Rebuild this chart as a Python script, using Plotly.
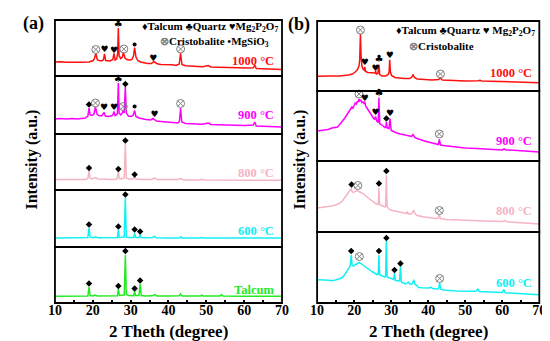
import plotly.graph_objects as go

# ---------------- data: (2-theta, intensity a.u.) ----------------
a1000 = [(10,14),(11.5,14.3),(13,13.8),(15,13.5),(17,13.8),(19,14),(19.7,14.8),(20.1,15.5),(20.4,17),(20.8,22.5),(21.2,16),(21.7,15.2),(22.3,15),(22.8,16),(23.1,22),(23.4,15.5),(24,15.2),(24.6,15),(25.3,16.5),(25.6,22.5),(25.9,16),(26.3,17),(26.55,22),(26.75,48),(26.95,20),(27.4,17.5),(27.8,19),(28.1,23.5),(28.5,18),(29,16.5),(29.6,16),(30.3,16.5),(30.75,20),(31.05,28.5),(31.4,19),(31.9,15.5),(32.6,14),(33.5,13.2),(34.5,12.5),(35.5,12.5),(36.1,14.5),(36.5,13.5),(37,12.2),(38,11.5),(39,11.5),(40,11),(41,11.2),(42,10.5),(42.85,12),(43.2,23),(43.55,11.5),(44.5,10.3),(46,9.8),(47.5,9.8),(49,9.3),(50.5,10.5),(51.2,9),(53,8.8),(55,8.5),(57,8.3),(59,8),(61,8),(62.4,8.2),(62.8,11),(63.2,7.5),(65,7.2),(67,7),(70,6.5)]
a900 = [(10,15),(11.5,15.5),(13,15),(14.5,15.5),(16,15),(17.2,15.8),(18,16),(18.7,18),(19.0,26),(19.3,19),(19.8,18.5),(20.3,20),(20.7,27),(21.1,20),(21.6,18.5),(22.3,18),(22.7,19.5),(23.0,21.5),(23.3,18),(24,17.5),(24.8,18),(25.3,19),(25.6,22.5),(25.9,18.5),(26.5,20),(26.75,51),(26.95,21),(27.4,19),(27.8,21),(28.05,23.5),(28.3,21),(28.6,47),(28.85,21),(29.4,18),(30.2,17.5),(30.7,19),(31.05,23.5),(31.4,17.5),(32.2,16),(33,15),(34,14.5),(35.3,14),(35.9,15.5),(36.3,14.5),(36.8,13),(38,12.5),(39.5,12),(41,11.5),(42.5,11),(42.9,13),(43.2,26),(43.5,12),(44.5,10.5),(46,10.2),(47.5,10),(49,9.7),(50.5,11),(51.2,9.5),(53,9.3),(55,9),(58,8.7),(60,8.5),(62.4,9),(62.8,12),(63.2,8),(65,7.8),(67,7.5),(70,7)]
a800 = [(10,10.5),(12,10.7),(14,10.5),(16,10.6),(18,10.5),(18.7,11.5),(19.0,19),(19.3,12),(19.8,11),(20.7,12.5),(21.3,11),(23,10.5),(25,10.5),(26.4,11),(26.75,19),(27.0,11.5),(27.5,11),(28.3,12),(28.6,46),(28.85,12),(29.5,11),(30.6,11),(31.05,13),(31.4,11),(33,10.5),(35.5,10.5),(36.3,12),(37,10.5),(40,10.5),(42.5,10.5),(43.2,11.5),(44,10),(48,10),(48.8,10.8),(49.5,10),(55,10),(60,9.8),(65,9.8),(70,9.7)]
a600 = [(10,9),(15,9),(18.7,9.5),(19.0,19),(19.3,10),(20,9.3),(20.7,10),(21.5,9.2),(25,9),(26.5,9.5),(26.75,17),(27.0,9.5),(28.3,10),(28.6,49),(28.85,10),(29.5,9.5),(30.8,9.5),(31.05,14),(31.3,9.5),(32.3,9.5),(32.5,12.5),(32.75,9.5),(34,9.2),(35.8,9.5),(36.3,10.7),(36.8,9.2),(40,9),(42.8,9),(43.2,10),(43.6,9),(48.5,9),(48.8,9.6),(49.1,9),(55,9),(60,9),(65,9),(70,9)]
atalc = [(10,6.7),(15,6.7),(18.7,7),(19.0,16),(19.3,7.5),(20,7),(20.6,8),(21.2,7),(25,6.8),(26.5,7.2),(26.75,14),(27.0,7.5),(28.3,8),(28.6,48),(28.85,8.5),(29.5,7.5),(30.8,7.3),(31.05,11.5),(31.3,7.5),(32.2,7.5),(32.5,19),(32.8,7.5),(34,7),(35.7,7.2),(36.3,8.5),(37,7),(40,7),(42.8,7.2),(43.2,9),(43.6,7),(48.5,7),(48.8,8),(49.1,7),(53.6,7),(54.0,8.5),(54.4,7),(60,6.8),(65,6.8),(70,6.8)]

b1000 = [(10,14.7),(12,14.5),(14,15),(16,15),(17.5,15.5),(18.5,16),(19.5,17),(20.3,19),(20.9,21.5),(21.3,25),(21.5,31),(21.7,57),(21.9,33),(22.1,25),(22.4,22),(22.7,21),(22.9,24),(23.1,19.5),(23.7,18.5),(24.5,18),(25.3,17.5),(25.6,18),(25.8,20),(26.0,17),(26.4,17.5),(26.7,26.3),(26.9,16.5),(27.5,15),(28.5,15),(29.2,16.5),(29.45,19),(29.6,31.3),(29.8,19),(30.1,15.5),(31,13.5),(32,13),(33.5,12.5),(35,12.5),(35.6,14),(35.9,16.3),(36.3,13.5),(37,12),(39,11.5),(41,11),(42.8,11.5),(43.3,13),(43.8,11),(46,10.5),(50,10),(53.5,10.2),(54,10.8),(54.5,10),(58,9.7),(62,9.5),(66,9),(70,8.3)]
b900 = [(10,30),(11,30.5),(12,31),(13,31.5),(14,33),(15,33.5),(15.5,34),(16,36),(16.5,38),(17,40.5),(17.5,43),(18,46),(18.5,49),(19,51.5),(19.4,54),(19.7,53),(20,56),(20.3,58),(20.6,57),(20.9,60),(21.1,59),(21.3,62),(21.5,60),(21.8,61),(22.1,58.5),(22.4,59),(22.7,57),(22.9,59.5),(23.1,55),(23.5,53),(24,49.5),(24.5,47),(25,44),(25.5,41.5),(25.8,44.5),(26.1,40),(26.5,38.5),(26.7,63.5),(26.9,37.5),(27.3,36),(27.8,35),(28.3,33.5),(28.55,34),(28.7,39),(28.9,33),(29.4,32.5),(29.7,42.5),(30.0,30.5),(30.5,29.5),(31.5,28),(32.5,27),(33.5,26),(34.5,25),(35.5,24.5),(35.9,26.5),(36.4,23.5),(37,22.5),(38,21),(39,20),(40,19),(41,18),(42,17),(42.7,16.5),(43.0,21.5),(43.3,16),(44,15.5),(45,15),(47,14),(50,13),(53,12.5),(55,12),(58,11.5),(60,11),(60.5,12.2),(61,11),(63,10.8),(65,10.5),(67,10),(70,9)]
b800 = [(10,24),(11,24.5),(12,24.3),(13,25),(13.9,26),(15,27),(16,28.5),(16.8,31),(17.5,34),(18,37),(18.5,40),(18.9,41.5),(19.2,43),(19.45,40.5),(19.8,39.5),(20.2,40.5),(20.6,41.5),(21.0,41),(21.4,40.5),(21.8,39.5),(22.3,38.5),(22.8,36.5),(23.3,35.5),(23.8,34),(24.3,32.5),(24.8,31),(25.3,30),(25.8,28.5),(26.4,27.5),(26.55,29),(26.7,44),(26.85,28),(27.2,27),(27.7,26),(28.3,25),(28.5,26),(28.7,57),(28.9,25),(29.3,23.5),(29.7,22.3),(30.3,21.5),(31,21),(31.8,20),(32.5,19.5),(33.3,19),(34.1,18.5),(34.35,20.5),(34.6,18),(35.3,18),(35.8,19.5),(36.1,22),(36.5,18),(37,16.5),(38,15.5),(39,15),(40,14.5),(41,14),(42.3,13.5),(42.7,14),(43.0,17.3),(43.3,13.5),(44,13),(45,12.5),(47,12.3),(48,12),(50,12),(52,11.5),(55,11),(58,10.8),(60,10.5),(60.7,11.5),(61.2,10.3),(63,9.8),(65,9.2),(67,8.8),(70,8)]
b600 = [(10,23.3),(11,23.5),(12,23),(13,22.8),(13.9,22.3),(15,23),(15.8,24),(16.6,25),(17.2,27),(17.7,29.5),(18.3,33.3),(18.7,35.5),(18.95,38),(19.2,48),(19.45,38),(19.8,37),(20.2,38),(20.6,39),(21.0,40),(21.4,40.5),(21.8,39.5),(22.3,38),(22.8,36.5),(23.6,35),(24.2,33),(24.8,31.5),(25.5,30),(26.2,28.3),(26.5,29),(26.7,48),(26.9,28),(27.3,27.5),(27.8,26.5),(28.3,26),(28.5,27.5),(28.7,62),(28.9,26),(29.3,25.5),(29.7,25),(30.2,24),(30.65,23.5),(30.9,30),(31.15,22.5),(31.7,22.3),(32.25,22),(32.5,36.7),(32.75,21),(33.3,20),(33.9,19),(34.3,20),(34.6,21),(35.0,19),(35.6,19),(35.85,20.5),(36.1,23.3),(36.4,19),(36.9,17),(37.5,15.5),(38.3,15.2),(39.3,15),(40.3,15),(40.7,15.8),(41.2,14.5),(42.2,14),(42.8,14.3),(43.1,20),(43.4,13.8),(44.2,13),(45,12.5),(46.5,12.3),(48,12),(50,11.5),(52,11.7),(53,12),(53.4,14),(53.8,11.5),(55,11.3),(57,11),(59,10.7),(60,10.5),(60.4,13.3),(60.8,10.3),(62,10),(64,9.6),(66,9.2),(68,8.8),(70,8.3)]

# phase markers: (phase, 2-theta, height)   T=Talcum Q=Quartz M=Mg2P2O7 C=Cristobalite S=MgSiO3
a1000_mk = [('C',20.8,26.5),('M',23.1,26.5),('M',25.6,25.5),('Q',26.75,52),('C',28.2,27),('S',31.05,31.5),('M',36.0,17.5),('C',43.2,27)]
a900_mk = [('T',19.0,29.5),('C',20.7,31),('M',23.0,26.5),('M',25.6,26.5),('Q',26.75,54.5),('C',28.05,27.5),('T',28.6,50),('S',31.05,27.5),('M',36.3,19.5),('C',43.2,30.5)]
a800_mk = [('T',19.0,22),('T',26.75,21),('T',28.6,49.5),('T',31.05,15.5)]
a600_mk = [('T',19.0,22.5),('T',26.75,20.5),('T',28.6,52.5),('T',31.05,17.5),('T',32.5,15.5)]
atalc_mk = [('T',19.0,19.5),('T',26.75,17),('T',28.6,52),('T',31.05,14.5),('T',32.5,22.5)]
b1000_mk = [('C',21.7,61),('M',22.9,28),('M',25.8,22.5),('Q',26.7,31.5),('M',29.6,35.5),('C',43.3,17)]
b900_mk = [('C',21.3,67),('M',22.9,62.5),('M',25.8,48),('Q',26.7,67.5),('T',28.7,42.5),('M',29.7,47),('C',43.0,27)]
b800_mk = [('T',19.3,47.5),('C',21.0,46.5),('T',26.7,48.5),('T',28.7,61),('C',43.0,21.5)]
b600_mk = [('T',19.2,52),('C',21.4,46.5),('T',26.7,52),('T',28.7,65),('T',30.9,33),('T',32.5,39.5),('C',43.1,24.5)]

labels_a = ['1000 °C', '900 °C', '800 °C', '600 °C', 'Talcum']
labels_b = ['1000 °C', '900 °C', '800 °C', '600 °C']
x_ticks = [10, 20, 30, 40, 50, 60, 70]

# ---------------- layout geometry (pixels) ----------------
W, H = 550, 341
A_X = (41, 274)
B_X = (310, 538)
A_EDGES = [12, 68, 126, 182, 239, 295]
B_EDGES = [13, 83, 153, 224, 295]
RED, MAG, PINK, CYAN, GREEN = '#ff1010', '#ff00ff', '#f4b4c2', '#10f0f4', '#22ea22'
SERIF = 'Liberation Serif'

def px(x): return x / W
def py(y): return 1 - y / H

panels = [
    ('x', A_EDGES[0], A_EDGES[1], a1000, a1000_mk, RED, labels_a[0], 53, 268),
    ('x', A_EDGES[1], A_EDGES[2], a900, a900_mk, MAG, labels_a[1], 107, 268),
    ('x', A_EDGES[2], A_EDGES[3], a800, a800_mk, PINK, labels_a[2], 165, 268),
    ('x', A_EDGES[3], A_EDGES[4], a600, a600_mk, CYAN, labels_a[3], 223, 268),
    ('x', A_EDGES[4], A_EDGES[5], atalc, atalc_mk, GREEN, labels_a[4], 282, 268),
    ('x2', B_EDGES[0], B_EDGES[1], b1000, b1000_mk, RED, labels_b[0], 65, 533),
    ('x2', B_EDGES[1], B_EDGES[2], b900, b900_mk, MAG, labels_b[1], 133, 533),
    ('x2', B_EDGES[2], B_EDGES[3], b800, b800_mk, PINK, labels_b[2], 203, 533),
    ('x2', B_EDGES[3], B_EDGES[4], b600, b600_mk, CYAN, labels_b[3], 275, 533),
]

fig = go.Figure()
layout = {}
shapes = []
annotations = []

for i, (xa, top, bot, data, mks, color, label, ly, lx) in enumerate(panels, start=1):
    yname = 'y' if i == 1 else f'y{i}'
    xs = [p[0] for p in data]
    ys = [p[1] for p in data]
    fig.add_trace(go.Scatter(x=xs, y=ys, xaxis=xa, yaxis=yname, mode='lines',
                             line=dict(color=color, width=1.5), hoverinfo='skip',
                             showlegend=False, cliponaxis=False))
    for kind in 'TSCQM':
        pts = [m for m in mks if m[0] == kind]
        if not pts:
            continue
        mx = [m[1] for m in pts]
        my = [m[2] for m in pts]
        if kind == 'T':
            tr = go.Scatter(x=mx, y=my, mode='markers',
                            marker=dict(symbol='diamond', size=5, color='black'))
        elif kind == 'S':
            tr = go.Scatter(x=mx, y=my, mode='markers',
                            marker=dict(symbol='circle', size=4, color='black'))
        elif kind == 'C':
            tr = go.Scatter(x=mx, y=my, mode='markers',
                            marker=dict(symbol='circle-x-open', size=8, color='#808080',
                                        line=dict(width=1, color='#808080')))
        elif kind == 'Q':
            tr = go.Scatter(x=mx, y=my, mode='text', text=['♣'] * len(mx),
                            textposition='middle center',
                            textfont=dict(family='DejaVu Sans', size=10, color='black'))
        else:
            tr = go.Scatter(x=mx, y=my, mode='text', text=['♥'] * len(mx),
                            textposition='middle center',
                            textfont=dict(family='DejaVu Sans', size=9, color='black'))
        tr.update(xaxis=xa, yaxis=yname, showlegend=False, hoverinfo='skip', cliponaxis=False)
        fig.add_trace(tr)

    key = 'yaxis' if i == 1 else f'yaxis{i}'
    layout[key] = dict(domain=[py(bot), py(top)], range=[0, bot - top], anchor=xa,
                       showgrid=False, zeroline=False, showticklabels=False,
                       ticks='', showline=False, fixedrange=True)
    xr = A_X if xa == 'x' else B_X
    shapes.append(dict(type='rect', xref='paper', yref='paper',
                       x0=px(xr[0]), x1=px(xr[1]), y0=py(bot), y1=py(top),
                       line=dict(color='black', width=1.8), layer='above'))
    annotations.append(dict(x=px(lx), y=py(ly), xref='paper', yref='paper',
                            text=f'<b>{label}</b>', showarrow=False,
                            xanchor='right', yanchor='middle',
                            font=dict(family=SERIF, size=12.5, color=color)))

xaxis_common = dict(range=[10, 70], tickvals=x_ticks, ticks='inside', ticklen=3,
                    tickwidth=1.5, tickcolor='black', showgrid=False, zeroline=False,
                    showline=False, fixedrange=True, ticklabelstandoff=-3,
                    minor=dict(dtick=5, tick0=5, ticks='inside', ticklen=3, tickwidth=1.5,
                               tickcolor='black', showgrid=False),
                    tickfont=dict(family=SERIF, size=14, color='black', weight='bold'))
layout['xaxis'] = dict(domain=[px(A_X[0]), px(A_X[1])], anchor='y5', **xaxis_common)
layout['xaxis2'] = dict(domain=[px(B_X[0]), px(B_X[1])], anchor='y9', **xaxis_common)

def ann(x, y, text, size, xanchor='center', angle=0, color='black'):
    annotations.append(dict(x=px(x), y=py(y), xref='paper', yref='paper', text=text,
                            showarrow=False, xanchor=xanchor, yanchor='middle',
                            textangle=angle, font=dict(family=SERIF, size=size, color=color)))

GREY = "<span style='color:#808080'>⊗</span>"
ann(19, 16, '<b>(a)</b>', 18)
ann(291, 17, '<b>(b)</b>', 18)
ann(272, 19, '<b>♦Talcum ♣Quartz ♥Mg<sub>2</sub>P<sub>2</sub>O<sub>7</sub></b>', 11)
ann(263, 34, f'<b>{GREY}Cristobalite •MgSiO<sub>3</sub></b>', 11)
ann(536, 23, '<b>♦Talcum ♣Quartz ♥ Mg<sub>2</sub>P<sub>2</sub>O<sub>7</sub></b>', 11)
ann(438, 38, f'<b>{GREY}Cristobalite</b>', 11)
ann(17, 152, '<b>Intensity (a.u.)</b>', 16, angle=-90)
ann(292, 152, '<b>Intensity (a.u.)</b>', 16, angle=-90)
ann(158, 323, '<b>2 Theth (degree)</b>', 17)
ann(424, 323, '<b>2 Theth (degree)</b>', 17)

# right-align the legend lines
for a in annotations[-8:-4]:
    pass
annotations[-8]['xanchor'] = 'right'
annotations[-7]['xanchor'] = 'right'
annotations[-6]['xanchor'] = 'right'

fig.update_layout(width=W, height=H, margin=dict(l=0, r=0, t=0, b=0),
                  paper_bgcolor='white', plot_bgcolor='white',
                  shapes=shapes, annotations=annotations, showlegend=False, **layout)

fig.write_html('out.html')
